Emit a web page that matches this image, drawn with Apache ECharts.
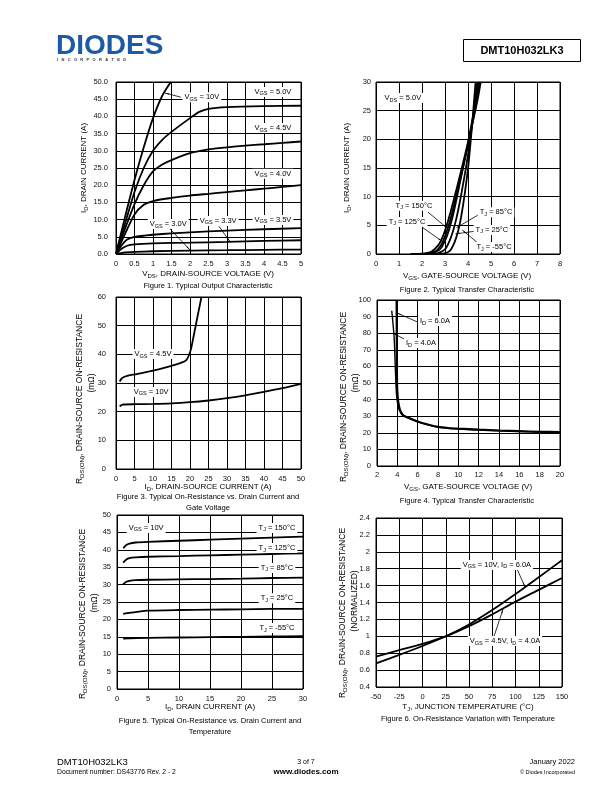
<!DOCTYPE html>
<html><head><meta charset="utf-8">
<script src="https://cdn.jsdelivr.net/npm/echarts/dist/echarts.min.js"></script>
<style>html,body{margin:0;padding:0;background:#fff}#c{width:612px;height:792px}</style>
</head><body><div id="c"></div>
<script>
// ---------- DATA ----------
// Figure 1: I_D (A) vs V_DS (V)
const f1_vgs10 = [[0,0],[0.25,11],[0.5,21.5],[0.75,31],[1,39.5],[1.25,46],[1.48,50]];
const f1_vgs50 = [[0,0],[0.25,9],[0.5,18],[0.75,25],[1,30],[1.25,33.2],[1.5,35.5],[2,39.5],[2.25,41.3],[2.5,42.2],[3,42.7],[4,43],[5,43.1]];
const f1_vgs45 = [[0,0],[0.25,7.5],[0.5,14.5],[0.75,20],[1,24],[1.25,26],[1.5,27.3],[2,29.3],[2.5,30.4],[3,31],[3.5,31.5],[4,31.9],[4.5,32.3],[5,32.7]];
const f1_vgs40 = [[0,0],[0.25,6],[0.5,11.5],[0.75,14.3],[1,15.4],[1.5,16.3],[2,17],[2.5,17.5],[3,18],[3.5,18.5],[4,19],[4.5,19.5],[5,20]];
const f1_vgs35 = [[0,0],[0.15,2.5],[0.3,4.2],[0.5,5],[0.75,5.3],[1,5.6],[1.5,6],[2,6.3],[3,6.8],[4,7.2],[5,7.5]];
const f1_vgs33 = [[0,0],[0.15,1.5],[0.3,2.4],[0.5,2.8],[1,3.1],[2,3.3],[3,3.5],[4,3.8],[5,4.0]];
const f1_vgs30 = [[0,0],[0.2,0.4],[0.5,0.6],[1,0.8],[2,1.0],[3,1.1],[4,1.2],[5,1.3]];
// Figure 2: I_D (A) vs V_GS (V)
const f2_t150 = [[1.5,0],[2,0.05],[2.4,0.4],[2.7,1.5],[2.9,3.0],[3.05,4.7],[3.2,6.7],[3.35,9],[3.5,11.3],[3.7,14.5],[3.9,17.8],[4.1,21.2],[4.3,24.7],[4.45,27.6],[4.55,30]];
const f2_t125 = [[1.7,0],[2.2,0.05],[2.6,0.5],[2.85,1.7],[3.0,3.1],[3.15,4.9],[3.3,7],[3.45,9.5],[3.6,12],[3.8,15.4],[4.0,19],[4.2,23],[4.35,26.3],[4.5,30]];
const f2_t85 = [[1.9,0],[2.4,0.05],[2.8,0.9],[3.0,2.3],[3.15,3.9],[3.3,6.0],[3.45,8.6],[3.6,11.5],[3.78,15],[3.95,18.3],[4.1,21.5],[4.3,25.8],[4.47,30]];
const f2_t25 = [[2.2,0],[2.6,0.05],[3.0,0.8],[3.2,2.3],[3.35,4.0],[3.5,6.3],[3.65,9.2],[3.8,12.5],[3.95,16],[4.08,19.6],[4.2,23.3],[4.3,26.5],[4.4,30]];
const f2_tm55 = [[2.5,0],[2.9,0.05],[3.2,0.5],[3.4,1.9],[3.55,3.7],[3.68,6],[3.8,8.9],[3.92,12.3],[4.02,15.6],[4.1,19],[4.18,22.5],[4.25,26],[4.33,30]];
// Figure 3: R_DS(ON) (mOhm) vs I_D (A)
const f3_vgs45 = [[1,30.5],[1.5,31.5],[2,32],[3,32.5],[5,33],[7.5,33.6],[10,34.3],[12.5,35.1],[15,36],[17.5,37],[19,38],[19.8,40],[20.3,42],[21,46.5],[22,53],[23.1,60]];
const f3_vgs10 = [[1,21.8],[1.5,22.3],[2,22.5],[5,22.6],[10,22.7],[15,22.9],[20,23.3],[25,23.9],[30,24.7],[35,25.7],[40,26.9],[45,28.2],[50,29.7]];
// Figure 4: R_DS(ON) (mOhm) vs V_GS (V)
const f4_id6 = [[3.93,100],[3.94,85],[3.95,70],[3.96,56],[3.99,46],[4.08,39],[4.25,34],[4.56,30.5],[5,29.3],[6,26.8],[7,25],[8,23.6],[9,22.9],[10,22.5],[12,21.9],[14,21.4],[16,21],[18,20.6],[20,20.4]];
const f4_id4 = [[3.45,93.5],[3.6,84],[3.7,76],[3.76,66],[3.82,56],[3.88,47],[3.95,41],[4.05,37],[4.2,33.6],[4.5,30.8],[5,29.2],[6,26.6],[7,24.8],[8,23.4],[9,22.7],[10,22.3],[12,21.7],[14,21.2],[16,20.8],[18,20.5],[20,20.3]];
// Figure 5: R_DS(ON) (mOhm) vs I_D (A), VGS=10V
const f5_t150 = [[1,40.5],[1.5,41.4],[2,41.8],[3,42.1],[5,42.3],[10,42.6],[15,42.9],[20,43.2],[25,43.5],[30,43.8]];
const f5_t125 = [[1,36.3],[1.5,37.2],[2,37.6],[3,37.8],[5,38],[10,38.2],[15,38.4],[20,38.6],[25,38.8],[30,39]];
const f5_t85 = [[1,30.1],[1.5,30.8],[2,31.1],[3,31.3],[5,31.4],[10,31.5],[15,31.6],[20,31.7],[25,31.9],[30,32]];
const f5_t25 = [[1,21.6],[2,21.9],[3,22.1],[5,22.5],[10,22.7],[15,22.8],[20,22.9],[25,23],[30,23]];
const f5_tm55 = [[1,14.5],[5,14.7],[10,14.8],[15,14.9],[20,15],[25,15.1],[30,15.2]];
// Figure 6: normalized R_DS(ON) vs T_J (C)
const f6_vgs10 = [[-50,0.68],[-25,0.78],[0,0.885],[25,1.0],[50,1.14],[75,1.31],[100,1.5],[125,1.7],[150,1.9]];
const f6_vgs45 = [[-50,0.76],[-25,0.835],[0,0.91],[25,1.0],[50,1.12],[75,1.26],[100,1.41],[125,1.55],[150,1.69]];

// Annotation anchors in data units: [x, y, text]
const f1_notes = [[2.32,45.6,'{n|V}{s|GS}{n| = 10V}'],[4.24,47.1,'{n|V}{s|GS}{n| = 5.0V}'],[4.24,36.6,'{n|V}{s|GS}{n| = 4.5V}'],[4.24,23.3,'{n|V}{s|GS}{n| = 4.0V}'],[4.24,9.9,'{n|V}{s|GS}{n| = 3.5V}'],[2.76,9.6,'{n|V}{s|GS}{n| = 3.3V}'],[1.41,8.7,'{n|V}{s|GS}{n| = 3.0V}']];
const f1_arrows = [[[1.75,45.6],[1.32,46.8]],[[2.78,8.1],[3.08,3.6]],[[1.46,7.3],[2.0,1.15]]];
const f2_notes = [[1.17,27.2,'{n|V}{s|DS}{n| = 5.0V}'],[1.65,8.4,'{n|T}{s|J}{n| = 150°C}'],[1.35,5.6,'{n|T}{s|J}{n| = 125°C}'],[5.22,7.3,'{n|T}{s|J}{n| = 85°C}'],[5.04,4.2,'{n|T}{s|J}{n| = 25°C}'],[5.13,1.2,'{n|T}{s|J}{n| = -55°C}']];
const f2_arrows = [[[2.26,7.3],[3.1,4.5]],[[2.0,4.7],[2.88,2.2]],[[4.61,7.2],[3.5,4.6]],[[4.35,4.0],[3.45,3.5]],[[4.52,1.6],[3.75,4.2]]];
const f3_notes = [[10,40.1,'{n|V}{s|GS}{n| = 4.5V}'],[9.5,26.9,'{n|V}{s|GS}{n| = 10V}']];
const f4_notes = [[7.7,87.3,'{n|I}{s|D}{n| = 6.0A}'],[6.33,74.1,'{n|I}{s|D}{n| = 4.0A}']];
const f4_arrows = [[[6.0,86.7],[3.97,92.2]],[[4.85,75.9],[3.57,80.1]]];
const f5_notes = [[4.7,46.3,'{n|V}{s|GS}{n| = 10V}'],[25.8,46.3,'{n|T}{s|J}{n| = 150°C}'],[25.8,40.5,'{n|T}{s|J}{n| = 125°C}'],[25.8,34.8,'{n|T}{s|J}{n| = 85°C}'],[25.8,26.1,'{n|T}{s|J}{n| = 25°C}'],[25.8,17.5,'{n|T}{s|J}{n| = -55°C}']];
const f6_notes = [[80,1.844,'{n|V}{s|GS}{n| = 10V, I}{s|D}{n| = 6.0A}'],[88.7,0.944,'{n|V}{s|GS}{n| = 4.5V, I}{s|D}{n| = 4.0A}']];
const f6_arrows = [[[101.6,1.797],[110.2,1.585]],[[76.9,1.0],[86.6,1.32]]];

// ---------- STYLE / BUILD ----------
const FF = '"Liberation Sans", Arial, Helvetica, sans-serif';
const rich = {
  n: {fontSize: 7.5, fontFamily: FF, color: '#000', lineHeight: 10},
  s: {fontSize: 5.5, fontFamily: FF, color: '#000', lineHeight: 6, verticalAlign: 'bottom'}
};
const richName = {
  n: {fontSize: 8, fontFamily: FF, color: '#000', lineHeight: 10},
  s: {fontSize: 6, fontFamily: FF, color: '#000', lineHeight: 6, verticalAlign: 'bottom'}
};
const richBig = {
  n: {fontSize: 8.5, fontFamily: FF, color: '#111', lineHeight: 11},
  s: {fontSize: 6.2, fontFamily: FF, color: '#111', lineHeight: 7, verticalAlign: 'bottom'}
};
const grids = [
  {left:116, top:82, width:185, height:172},
  {left:376, top:82, width:184, height:172},
  {left:116, top:297, width:185, height:172},
  {left:377, top:300, width:183, height:166},
  {left:117, top:515, width:186, height:174},
  {left:376, top:518, width:186, height:169}
].map(g => Object.assign({show:true, borderColor:'#000', borderWidth:1}, g));

function axis(i, min, max, interval, margin, fmt) {
  return {gridIndex:i, type:'value', min, max, interval,
    axisLine:{show:false}, axisTick:{show:false},
    splitLine:{show:true, lineStyle:{color:'#000', width:1}},
    axisLabel:{fontSize:7.5, fontFamily:FF, color:'#111', margin, showMinLabel:true, showMaxLabel:true, formatter: fmt}};
}
const xAxes = [
  axis(0,0,5,0.5,6), axis(1,0,8,1,6), axis(2,0,50,5,6),
  axis(3,2,20,2,5), axis(4,0,30,5,6), axis(5,-50,150,25,6)
];
const yAxes = [
  axis(0,0,50,5,8,v=>v.toFixed(1)), axis(1,0,30,5,5), axis(2,0,60,10,10),
  axis(3,0,100,10,6), axis(4,0,50,5,6), axis(5,0.4,2.4,0.2,6,v=>String(Math.round(v*10)/10))
];

function notesMP(notes) {
  return {symbol:'rect', symbolSize:1, itemStyle:{color:'rgba(0,0,0,0)'}, silent:true,
    label:{show:true, position:'inside', rich, backgroundColor:'#fff', padding:[0,2]},
    data: notes.map(n => ({coord:[n[0], n[1]], label:{formatter:n[2]}}))};
}
function arrowsML(arrows) {
  return {symbol:['none','arrow'], symbolSize:[1,5], silent:true,
    lineStyle:{color:'#000', width:0.8, type:'solid'}, label:{show:false},
    data: arrows.map(a => [{coord:a[0]}, {coord:a[1]}])};
}
function line(i, data, extra) {
  return Object.assign({type:'line', xAxisIndex:i, yAxisIndex:i, data, symbol:'none', showSymbol:false,
    smooth:0.25, lineStyle:{color:'#000', width:1.8}, clip:true, z:3}, extra||{});
}
const series = [
  line(0, f1_vgs10, {markPoint:notesMP(f1_notes), markLine:arrowsML(f1_arrows)}),
  line(0, f1_vgs50), line(0, f1_vgs45), line(0, f1_vgs40), line(0, f1_vgs35), line(0, f1_vgs33), line(0, f1_vgs30),
  line(1, f2_t150, {markPoint:notesMP(f2_notes), markLine:arrowsML(f2_arrows)}),
  line(1, f2_t125), line(1, f2_t85), line(1, f2_t25), line(1, f2_tm55),
  line(2, f3_vgs45, {markPoint:notesMP(f3_notes)}), line(2, f3_vgs10),
  line(3, f4_id6, {lineStyle:{color:'#000', width:2.2}, markPoint:notesMP(f4_notes), markLine:arrowsML(f4_arrows)}),
  line(3, f4_id4, {lineStyle:{color:'#000', width:1.4}}),
  line(4, f5_t150, {markPoint:notesMP(f5_notes)}), line(4, f5_t125), line(4, f5_t85), line(4, f5_t25), line(4, f5_tm55),
  line(5, f6_vgs10, {markPoint:notesMP(f6_notes), markLine:arrowsML(f6_arrows)}), line(5, f6_vgs45)
];

function txt(x, y, text, opt) {
  opt = opt || {};
  return {type:'text', x, y, rotation: opt.rot || 0, silent:true, z:10,
    style:{text, rich: opt.rich, fontSize: opt.size || 7.5, fontFamily: opt.ff || FF, fontWeight: opt.weight || 'normal',
      fill: opt.color || '#000', align: opt.align || 'center', verticalAlign: 'middle'}};
}
const R90 = Math.PI/2;
const RDS = '{n|R}{s|DS(ON)}{n|, DRAIN-SOURCE ON-RESISTANCE}';
const rn = richName, rb = richBig;
const graphic = [
  // header
  txt(56, 46, 'DIODES', {size:28, weight:900, color:'#1b5ba6', align:'left'}),
  txt(57, 60, 'I   N   C   O   R   P   O   R   A   T   E   D', {size:4, weight:'bold', color:'#333', align:'left'}),
  {type:'rect', shape:{x:463.5, y:39.5, width:117, height:22}, style:{fill:'none', stroke:'#000', lineWidth:1}},
  txt(522, 51, 'DMT10H032LK3', {size:11, weight:'bold'}),
  // axis names
  txt(208, 274, '{n|V}{s|DS}{n|, DRAIN-SOURCE VOLTAGE (V)}', {rich:rn}),
  txt(84, 168, '{n|I}{s|D}{n|, DRAIN CURRENT (A)}', {rich:rn, rot:R90}),
  txt(467, 276, '{n|V}{s|GS}{n|, GATE-SOURCE VOLTAGE (V)}', {rich:rn}),
  txt(347, 168, '{n|I}{s|D}{n|, DRAIN CURRENT (A)}', {rich:rn, rot:R90}),
  txt(208, 487, '{n|I}{s|D}{n|, DRAIN-SOURCE CURRENT (A)}', {rich:rn}),
  txt(80, 399, RDS, {rich:rb, rot:R90}),
  txt(92, 383, '{n|(mΩ)}', {rich:rb, rot:R90}),
  txt(468, 487, '{n|V}{s|GS}{n|, GATE-SOURCE VOLTAGE (V)}', {rich:rn}),
  txt(344, 397, RDS, {rich:rb, rot:R90}),
  txt(356, 383, '{n|(mΩ)}', {rich:rb, rot:R90}),
  txt(210, 707, '{n|I}{s|D}{n|, DRAIN CURRENT (A)}', {rich:rn}),
  txt(83, 614, RDS, {rich:rb, rot:R90}),
  txt(95, 603, '{n|(mΩ)}', {rich:rb, rot:R90}),
  txt(468, 707, '{n|T}{s|J}{n|, JUNCTION TEMPERATURE (°C)}', {rich:rn}),
  txt(343, 613, RDS, {rich:rb, rot:R90}),
  txt(355, 601, '{n|(NORMALIZED)}', {rich:rb, rot:R90}),
  // captions
  txt(208, 286, 'Figure 1. Typical Output Characteristic', {size:7.6}),
  txt(467, 290, 'Figure 2. Typical Transfer Characteristic', {size:7.6}),
  txt(208, 497, 'Figure 3. Typical On-Resistance vs. Drain Current and', {size:7.6}),
  txt(208, 507.5, 'Gate Voltage', {size:7.6}),
  txt(467, 501, 'Figure 4. Typical Transfer Characteristic', {size:7.6}),
  txt(210, 721, 'Figure 5. Typical On-Resistance vs. Drain Current and', {size:7.6}),
  txt(210, 731.5, 'Temperature', {size:7.6}),
  txt(468, 719, 'Figure 6. On-Resistance Variation with Temperature', {size:7.6}),
  // footer
  txt(57, 762, 'DMT10H032LK3', {size:9.5, align:'left'}),
  txt(57, 772, 'Document number: DS43776 Rev. 2 - 2', {size:6.8, align:'left'}),
  txt(306, 762, '3 of 7', {size:7}),
  txt(306, 772, 'www.diodes.com', {size:8, weight:'bold'}),
  txt(575, 762, 'January 2022', {size:7.5, align:'right'}),
  txt(575, 772, '© Diodes Incorporated', {size:5.5, align:'right'})
];

const chart = echarts.init(document.getElementById('c'), null, {renderer:'canvas'});
chart.setOption({animation:false, backgroundColor:'#fff', grid:grids, xAxis:xAxes, yAxis:yAxes, series, graphic});
</script></body></html>
